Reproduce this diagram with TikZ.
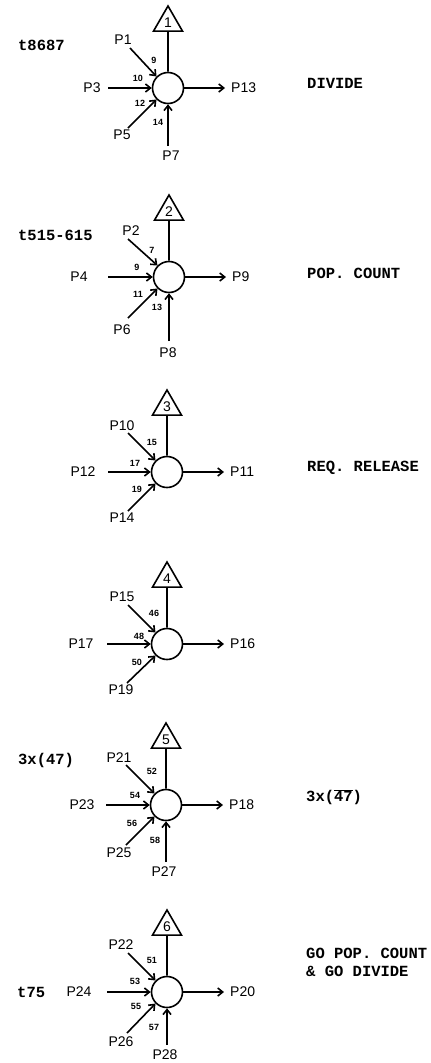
\documentclass[tikz,border=0pt]{standalone}
\usepackage{fontspec}
\setmainfont{Liberation Sans}
\newfontfamily\tw{Liberation Mono}
\usetikzlibrary{shapes.geometric,arrows.meta}
\tikzset{
  lab/.style={font=\fontsize{14}{14}\selectfont, inner sep=0pt},
  num/.style={font=\bfseries\fontsize{9}{9}\selectfont, inner sep=0pt},
  typed/.style={font=\tw\bfseries\fontsize{15.5}{18}\selectfont, anchor=west, inner sep=0pt, align=left},
  circ/.style={circle, draw, minimum size=31pt, inner sep=0pt, line width=1.6pt},
  tri/.style={regular polygon, regular polygon sides=3, draw, minimum size=33.4pt, inner sep=0pt, line width=1.6pt, font=\fontsize{14}{14}\selectfont},
  ln/.style={line width=1.6pt},
  arr/.style={line width=1.6pt, -{Straight Barb[length=5pt,width=8pt]}},
}
\begin{document}
\begin{tikzpicture}[x=1pt,y=-1pt]
\useasboundingbox (0,0) rectangle (431,1063);

% ---------------- block 1
\begin{scope}[shift={(168,88)}]
 \node[circ] (c1) at (0,0) {};
 \node[tri] (t1) at (0,-65.3) {1};
 \draw[ln] (c1) -- (t1);
 \coordinate (o1) at (57,0);
 \draw[arr] (c1.east) -- (o1);
 \node[lab,anchor=west] (lP13) at (63,0) {P13};
 \node[lab] (lP1) at (-45,-48) {P1};
 \coordinate (s1a) at (-38,-40);
 \draw[arr] (s1a) -- (c1.135);
 \node[num] (n9) at (-14,-28) {9};
 \node[lab] (lP3) at (-76,0) {P3};
 \coordinate (s1b) at (-60,0);
 \draw[arr] (s1b) -- (c1.west);
 \node[num] (n10) at (-30,-10) {10};
 \node[lab] (lP5) at (-46,47) {P5};
 \coordinate (s1c) at (-40,40);
 \draw[arr] (s1c) -- (c1.225);
 \node[num] (n12) at (-28,15) {12};
 \node[lab] (lP7) at (3,68) {P7};
 \coordinate (s1d) at (0,58);
 \draw[arr] (s1d) -- (c1.south);
 \node[num] (n14) at (-10,34) {14};
\end{scope}
\node[typed] (tag1) at (18,45) {t8687};
\node[typed] (txt1) at (307,83) {DIVIDE};

% ---------------- block 2
\begin{scope}[shift={(169,277)}]
 \node[circ] (c2) at (0,0) {};
 \node[tri] (t2) at (0,-65.3) {2};
 \draw[ln] (c2) -- (t2);
 \coordinate (o2) at (57,0);
 \draw[arr] (c2.east) -- (o2);
 \node[lab,anchor=west] (lP9) at (63,0) {P9};
 \node[lab] (lP2) at (-38,-46) {P2};
 \coordinate (s2a) at (-41,-38);
 \draw[arr] (s2a) -- (c2.135);
 \node[num] (n7) at (-17,-27) {7};
 \node[lab] (lP4) at (-90,0) {P4};
 \coordinate (s2b) at (-61,0);
 \draw[arr] (s2b) -- (c2.west);
 \node[num] (n9b) at (-32,-10) {9};
 \node[lab] (lP6) at (-47,53) {P6};
 \coordinate (s2c) at (-41,41);
 \draw[arr] (s2c) -- (c2.225);
 \node[num] (n11) at (-31,17) {11};
 \node[lab] (lP8) at (-1,76) {P8};
 \coordinate (s2d) at (0,64);
 \draw[arr] (s2d) -- (c2.south);
 \node[num] (n13) at (-12,30) {13};
\end{scope}
\node[typed] (tag2) at (18,235) {t515-615};
\node[typed] (txt2) at (307,273) {POP. COUNT};

% ---------------- block 3
\begin{scope}[shift={(167,472)}]
 \node[circ] (c3) at (0,0) {};
 \node[tri] (t3) at (0,-65.3) {3};
 \draw[ln] (c3) -- (t3);
 \coordinate (o3) at (57,0);
 \draw[arr] (c3.east) -- (o3);
 \node[lab,anchor=west] (lP11) at (63,0) {P11};
 \node[lab] (lP10) at (-45,-46) {P10};
 \coordinate (s3a) at (-39,-39);
 \draw[arr] (s3a) -- (c3.135);
 \node[num] (n15) at (-15,-30) {15};
 \node[lab] (lP12) at (-84,0) {P12};
 \coordinate (s3b) at (-59,0);
 \draw[arr] (s3b) -- (c3.west);
 \node[num] (n17) at (-32,-9) {17};
 \node[lab] (lP14) at (-45,46) {P14};
 \coordinate (s3c) at (-39,39);
 \draw[arr] (s3c) -- (c3.225);
 \node[num] (n19) at (-30,17) {19};
\end{scope}
\node[typed] (txt3) at (307,468) {REQ. RELEASE};

% ---------------- block 4
\begin{scope}[shift={(167,644)}]
 \node[circ] (c4) at (0,0) {};
 \node[tri] (t4) at (0,-65.3) {4};
 \draw[ln] (c4) -- (t4);
 \coordinate (o4) at (57,0);
 \draw[arr] (c4.east) -- (o4);
 \node[lab,anchor=west] (lP16) at (63,0) {P16};
 \node[lab] (lP15) at (-45,-47) {P15};
 \coordinate (s4a) at (-39,-39);
 \draw[arr] (s4a) -- (c4.135);
 \node[num] (n46) at (-13,-31) {46};
 \node[lab] (lP17) at (-86,0) {P17};
 \coordinate (s4b) at (-60,0);
 \draw[arr] (s4b) -- (c4.west);
 \node[num] (n48) at (-28,-8) {48};
 \node[lab] (lP19) at (-46,46) {P19};
 \coordinate (s4c) at (-40,39);
 \draw[arr] (s4c) -- (c4.225);
 \node[num] (n50) at (-30,18) {50};
\end{scope}

% ---------------- block 5
\begin{scope}[shift={(166,805)}]
 \node[circ] (c5) at (0,0) {};
 \node[tri] (t5) at (0,-65.3) {5};
 \draw[ln] (c5) -- (t5);
 \coordinate (o5) at (57,0);
 \draw[arr] (c5.east) -- (o5);
 \node[lab,anchor=west] (lP18) at (63,0) {P18};
 \node[lab] (lP21) at (-47,-47) {P21};
 \coordinate (s5a) at (-40,-40);
 \draw[arr] (s5a) -- (c5.135);
 \node[num] (n52) at (-14,-34) {52};
 \node[lab] (lP23) at (-84,0) {P23};
 \coordinate (s5b) at (-60,0);
 \draw[arr] (s5b) -- (c5.west);
 \node[num] (n54) at (-31,-10) {54};
 \node[lab] (lP25) at (-47,48) {P25};
 \coordinate (s5c) at (-40,40);
 \draw[arr] (s5c) -- (c5.225);
 \node[num] (n56) at (-34,18) {56};
 \node[lab] (lP27) at (-2,67) {P27};
 \coordinate (s5d) at (0,57);
 \draw[arr] (s5d) -- (c5.south);
 \node[num] (n58) at (-11,35) {58};
\end{scope}
\node[typed] (tag5) at (18,760) {3x(47)};
\node[typed] (txt5) at (306,797) {3x($\overline{\hbox{47}}$)};

% ---------------- block 6
\begin{scope}[shift={(167,992)}]
 \node[circ] (c6) at (0,0) {};
 \node[tri] (t6) at (0,-65.3) {6};
 \draw[ln] (c6) -- (t6);
 \coordinate (o6) at (57,0);
 \draw[arr] (c6.east) -- (o6);
 \node[lab,anchor=west] (lP20) at (63,0) {P20};
 \node[lab] (lP22) at (-46,-47) {P22};
 \coordinate (s6a) at (-39,-39);
 \draw[arr] (s6a) -- (c6.135);
 \node[num] (n51) at (-15,-32) {51};
 \node[lab] (lP24) at (-88,0) {P24};
 \coordinate (s6b) at (-60,0);
 \draw[arr] (s6b) -- (c6.west);
 \node[num] (n53) at (-32,-11) {53};
 \node[lab] (lP26) at (-46,50) {P26};
 \coordinate (s6c) at (-40,41);
 \draw[arr] (s6c) -- (c6.225);
 \node[num] (n55) at (-31,14) {55};
 \node[lab] (lP28) at (-2,63) {P28};
 \coordinate (s6d) at (0,53);
 \draw[arr] (s6d) -- (c6.south);
 \node[num] (n57) at (-13,35) {57};
\end{scope}
\node[typed] (tag6) at (17,992) {t75};
\node[typed,anchor=north west] (txt6) at (306,948) {GO POP. COUNT\\\& GO DIVIDE};
\end{tikzpicture}
\end{document}
